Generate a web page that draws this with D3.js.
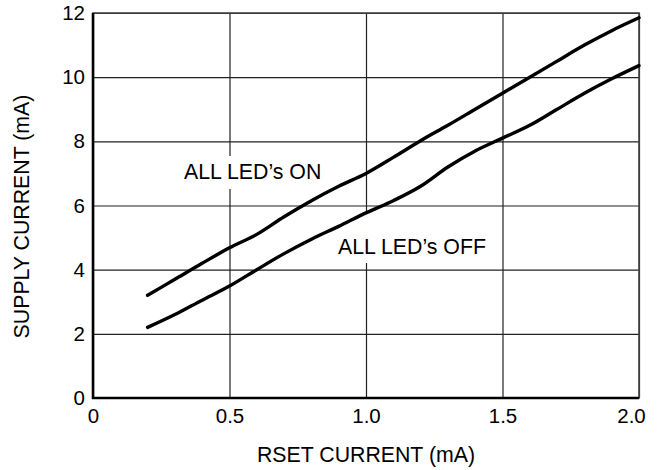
<!DOCTYPE html>
<html>
<head>
<meta charset="utf-8">
<script src="https://cdn.jsdelivr.net/npm/d3@7"></script>
<style>
	body { margin: 0; background: #fff; }
	svg { display: block; }
	text { font-family: "Liberation Sans", Arial, Helvetica, sans-serif; fill: #000; }
</style>
</head>
<body>
<div id="graph"></div>
<script>
// values
var rsetCurrent = [0.2, 0.3, 0.4, 0.5, 0.6, 0.7, 0.8, 0.9, 1.0, 1.1, 1.2, 1.3, 1.4, 1.5, 1.6, 1.7, 1.8, 1.9, 2.0];
var supplyAllOn = [3.2, 3.7, 4.2, 4.68, 5.1, 5.65, 6.15, 6.6, 7.0, 7.5, 8.02, 8.5, 9.0, 9.5, 10.0, 10.5, 11.0, 11.45, 11.85];
var supplyAllOff = [2.2, 2.6, 3.05, 3.49, 4.0, 4.5, 4.95, 5.35, 5.77, 6.15, 6.6, 7.2, 7.7, 8.1, 8.5, 9.0, 9.5, 9.95, 10.36];

var xTicks = [0, 0.5, 1.0, 1.5, 2.0];
var xTickLabels = ["0", "0.5", "1.0", "1.5", "2.0"];
var yTicks = [0, 2, 4, 6, 8, 10, 12];
var yTickLabels = ["0", "2", "4", "6", "8", "10", "12"];

var xTitle = "RSET CURRENT (mA)";
var yTitle = "SUPPLY CURRENT (mA)";
var labelOn = "ALL LED\u2019s ON";
var labelOff = "ALL LED\u2019s OFF";

var W = 663, H = 470;
var margin = {top: 13, right: 24, bottom: 72, left: 93};
var w = W - margin.left - margin.right;
var h = H - margin.top - margin.bottom;

var svg = d3.select("#graph").append("svg")
	.attr("width", W).attr("height", H);

var x = d3.scaleLinear().domain([0, 2]).range([0, w]);
var y = d3.scaleLinear().domain([0, 12]).range([h, 0]);

var g = svg.append("g")
	.attr("transform", "translate(" + margin.left + "," + margin.top + ")");

// grid
g.append("g").attr("class", "grid")
	.attr("transform", "translate(0," + h + ")")
	.call(d3.axisBottom(x).tickValues(xTicks).tickSize(-h).tickFormat(""))
	.call(function (s) { s.select(".domain").remove(); });
g.append("g").attr("class", "grid")
	.call(d3.axisLeft(y).tickValues(yTicks).tickSize(-w).tickFormat(""))
	.call(function (s) { s.select(".domain").remove(); });
g.selectAll(".grid line").attr("stroke", "#222").attr("stroke-width", 1.2);
g.append("rect").attr("width", w).attr("height", h)
	.attr("fill", "none").attr("stroke", "#444").attr("stroke-width", 1.6);

// white boxes behind the curve labels, then the labels
function addLabel(txt, lx, ly, padTop, padBottom) {
	var t = g.append("text").attr("x", lx).attr("y", ly)
		.attr("font-size", 21.3).text(txt);
	var bb = t.node().getBBox();
	g.insert("rect", function () { return t.node(); })
		.attr("x", bb.x - 3).attr("width", bb.width + 6)
		.attr("y", ly - padTop).attr("height", padTop + padBottom)
		.attr("fill", "#fff");
}
addLabel(labelOn, 184 - margin.left, 179 - margin.top, 23, 10);
addLabel(labelOff, 338 - margin.left, 254 - margin.top, 40, 9);

// curves
var line = d3.line()
	.x(function (d) { return x(d[0]); })
	.y(function (d) { return y(d[1]); })
	.curve(d3.curveMonotoneX);

[supplyAllOn, supplyAllOff].forEach(function (series) {
	g.append("path")
		.datum(d3.zip(rsetCurrent, series))
		.attr("d", line)
		.attr("fill", "none").attr("stroke", "#000")
		.attr("stroke-width", 3.4).attr("stroke-linecap", "round")
		.attr("stroke-linejoin", "round");
});

// axes (left and bottom drawn heavy)
g.append("line").attr("x1", 0).attr("x2", 0).attr("y1", 0).attr("y2", h + 1)
	.attr("stroke", "#000").attr("stroke-width", 2.6);
g.append("line").attr("x1", -1).attr("x2", w).attr("y1", h).attr("y2", h)
	.attr("stroke", "#000").attr("stroke-width", 2.6);

var xAxis = g.append("g").attr("transform", "translate(0," + h + ")")
	.call(d3.axisBottom(x).tickValues(xTicks).tickSize(0).tickPadding(10)
		.tickFormat(function (d, i) { return xTickLabels[i]; }));
var yAxis = g.append("g")
	.call(d3.axisLeft(y).tickValues(yTicks).tickSize(0).tickPadding(8)
		.tickFormat(function (d, i) { return yTickLabels[i]; }));
[xAxis, yAxis].forEach(function (a) {
	a.select(".domain").remove();
	a.selectAll("text").attr("font-size", 20.5)
		.attr("font-family", "\"Liberation Sans\", Arial, Helvetica, sans-serif")
		.attr("fill", "#000");
});
xAxis.selectAll("text").filter(function (d) { return d === 2; }).attr("dx", -8);

// titles
svg.append("text")
	.attr("x", margin.left + w / 2).attr("y", 462)
	.attr("text-anchor", "middle").attr("font-size", 21.3)
	.text(xTitle);
svg.append("text")
	.attr("transform", "translate(29," + (margin.top + h / 2 + 11) + ") rotate(-90)")
	.attr("text-anchor", "middle").attr("font-size", 21.3)
	.text(yTitle);
</script>
</body>
</html>
